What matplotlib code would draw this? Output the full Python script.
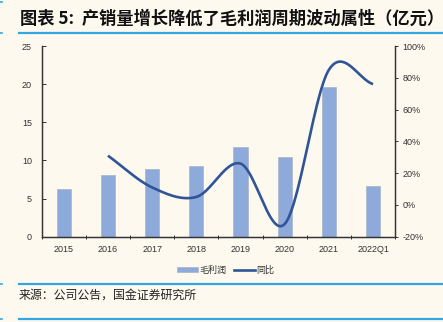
import numpy as np
import matplotlib
matplotlib.use("Agg")
import matplotlib.pyplot as plt
from matplotlib.lines import Line2D
from matplotlib.patches import Patch

# 毛利润 (亿元) and 同比 (%)
years = ["2015", "2016", "2017", "2018", "2019", "2020", "2021", "2022Q1"]
gross_profit = [6.2, 8.1, 8.9, 9.3, 11.8, 10.4, 19.6, 6.7]
yoy_years = ["2016", "2017", "2018", "2019", "2020", "2021", "2022Q1"]
yoy_pct = [31, 11, 5, 26, -12, 85, 76]

BG = "#fdf9ef"
BAR = "#8eaadb"
LINE = "#2f5597"
RULE = "#33a6e0"

plt.rcParams["font.family"] = ["Liberation Sans", "Noto Sans CJK SC", "DejaVu Sans"]


def smooth(x, y, n=40):
    # catmull-rom style smoothing, like the spreadsheet "smoothed line"
    x = np.asarray(x, float)
    y = np.asarray(y, float)
    m = np.zeros_like(y)
    m[1:-1] = (y[2:] - y[:-2]) / 2
    m[0] = y[1] - y[0]
    m[-1] = y[-1] - y[-2]
    xs, ys = [], []
    for i in range(len(x) - 1):
        t = np.linspace(0, 1, n, endpoint=False)
        h00 = 2 * t**3 - 3 * t**2 + 1
        h10 = t**3 - 2 * t**2 + t
        h01 = -2 * t**3 + 3 * t**2
        h11 = t**3 - t**2
        xs.append(x[i] + t * (x[i + 1] - x[i]))
        ys.append(h00 * y[i] + h10 * m[i] + h01 * y[i + 1] + h11 * m[i + 1])
    xs.append([x[-1]])
    ys.append([y[-1]])
    return np.concatenate(xs), np.concatenate(ys)


fig = plt.figure(figsize=(4.43, 3.22), dpi=100, facecolor=BG)
ax = fig.add_axes([0.094, 0.265, 0.798, 0.592])
ax.set_facecolor(BG)
ax2 = ax.twinx()

xpos = np.arange(len(years))
ax.bar(xpos, gross_profit, width=0.32, color=BAR, edgecolor="#a9b4c6", linewidth=0.5, zorder=2)

lx = [years.index(y) for y in yoy_years]
sx, sy = smooth(lx, yoy_pct)
ax2.plot(sx, sy, color=LINE, lw=1.9, solid_capstyle="butt", zorder=3)

ax.set_xlim(-0.5, len(years) - 0.5)
ax.set_ylim(0, 25)
ax.set_yticks(range(0, 26, 5))
ax2.set_ylim(-20, 100)
ax2.set_yticks(range(-20, 101, 20))
ax2.set_yticklabels([f"{v}%" for v in range(-20, 101, 20)])

ax.set_xticks(xpos)
ax.set_xticklabels(years)
ax.set_xticks(np.arange(-0.5, len(years)), minor=True)
ax.tick_params(axis="x", which="major", length=0, pad=6, labelsize=6.5, labelcolor="#333333")
ax.tick_params(axis="x", which="minor", length=3, direction="inout", width=0.7, color="#333333")
ax.tick_params(axis="y", direction="in", length=3, width=0.7, pad=7, labelsize=6.5,
               labelcolor="#333333", color="#333333")
ax2.tick_params(axis="y", direction="out", length=2.5, width=0.7, pad=3, labelsize=6.5,
                labelcolor="#333333", color="#333333")

for a in (ax, ax2):
    a.spines["top"].set_visible(False)
    for s in ("left", "right", "bottom"):
        a.spines[s].set_color("#333333")
        a.spines[s].set_linewidth(0.9)

handles = [Patch(facecolor=BAR, edgecolor="#a9b4c6", linewidth=0.5),
           Line2D([], [], color=LINE, lw=1.9)]
fig.legend(handles, ["毛利润", "同比"], loc="center", bbox_to_anchor=(0.51, 0.161),
           ncol=2, frameon=False, fontsize=6.5, handlelength=2.3, handleheight=0.5,
           handletextpad=0.2, columnspacing=0.8, labelcolor="#333333")

# header / footer rules
fig.add_artist(Line2D([19 / 443, 1], [1 - 33 / 322] * 2, color=RULE, lw=1.6))
fig.add_artist(Line2D([19 / 443, 1], [1 - 284 / 322] * 2, color=RULE, lw=1.6))
fig.add_artist(Line2D([19 / 443, 1], [1 - 319 / 322] * 2, color=RULE, lw=1.6))
for yy in (2, 33, 284, 319):
    fig.add_artist(Line2D([0, 2 / 443], [1 - yy / 322] * 2, color=RULE, lw=1.2))

fig.text(20 / 443, 1 - 19 / 322, "图表 5:  产销量增长降低了毛利润周期波动属性（亿元）",
         fontsize=12.4, fontweight="bold", va="center", ha="left", color="#111111",
         family=["Noto Sans CJK SC", "DejaVu Sans"])
fig.text(19 / 443, 1 - 295 / 322, "来源：公司公告，国金证券研究所", fontsize=8.6,
         va="center", ha="left", color="#222222", family=["Noto Sans CJK SC", "DejaVu Sans"])

fig.savefig("out.png", dpi=100, facecolor=BG)
